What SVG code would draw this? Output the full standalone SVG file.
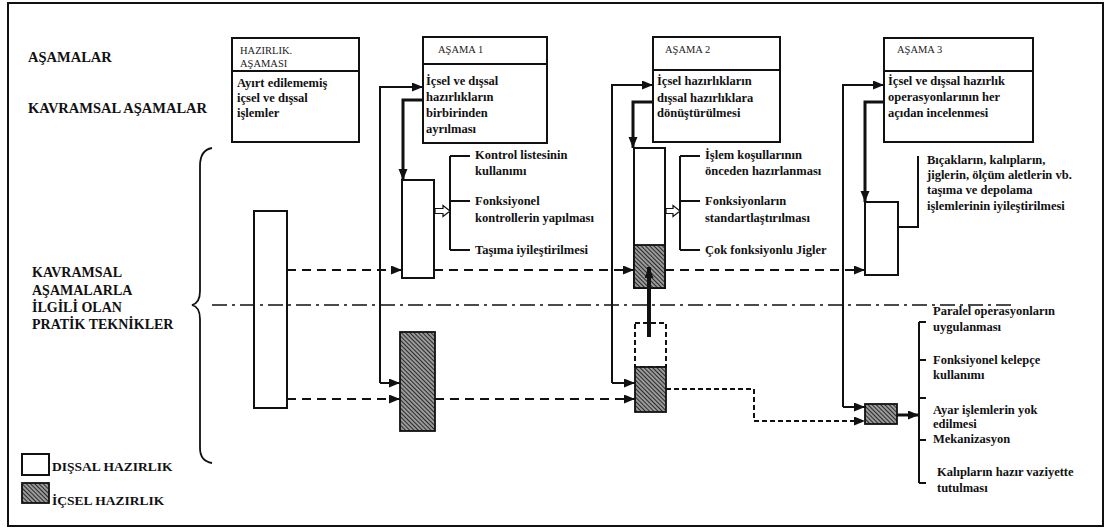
<svg xmlns="http://www.w3.org/2000/svg" width="1105" height="528" viewBox="0 0 1105 528">
<style>
text{font-family:'Liberation Serif','Times New Roman','DejaVu Serif',serif;}
.t{font-weight:bold;fill:#111;}
.lbl{font-size:14.5px;}
.lbl2{font-size:14px;}
.b{font-size:12.5px;}
.h{font-size:10.5px;fill:#222;}
.box{fill:#fff;stroke:#111;stroke-width:2;}
.hat{fill:url(#hatch);stroke:#111;stroke-width:1.8;}
.ln{fill:none;stroke:#111;stroke-width:2;}
.thk{fill:none;stroke:#111;stroke-width:3;}
.dsh{fill:none;stroke:#111;stroke-width:2;stroke-dasharray:9 6;}
.dd{fill:none;stroke:#111;stroke-width:1.6;stroke-dasharray:15 5 3 5;}
.sd{fill:none;stroke:#111;stroke-width:2;stroke-dasharray:5 3;}
</style>
<defs>
<pattern id="hatch" patternUnits="userSpaceOnUse" width="3" height="3" patternTransform="rotate(-45)">
<rect width="3" height="3" fill="#9a9a9a"/>
<line x1="0.5" y1="0" x2="0.5" y2="3" stroke="#2a2a2a" stroke-width="1"/>
</pattern>
<marker id="ah" markerUnits="userSpaceOnUse" markerWidth="12" markerHeight="10" refX="11" refY="4.5" orient="auto">
<path d="M0,0 L11,4.5 L0,9 z" fill="#111"/>
</marker>
</defs>
<rect x="8" y="3" width="1095" height="523" fill="#fff" stroke="#111" stroke-width="2"/>

<g id="labels" font-family="Liberation Serif, serif">
<text class="t lbl" x="28" y="62">AŞAMALAR</text>
<text class="t lbl" x="28" y="113">KAVRAMSAL AŞAMALAR</text>
<text class="t lbl2" x="32" y="277">KAVRAMSAL</text>
<text class="t lbl2" x="32" y="295">AŞAMALARLA</text>
<text class="t lbl2" x="32" y="312">İLGİLİ OLAN</text>
<text class="t lbl2" x="32" y="329">PRATİK TEKNİKLER</text>
<path d="M212,148 Q200,150 200,166 L200,291 Q200,303 192,305 Q200,307 200,319 L200,448 Q200,461 212,463" fill="none" stroke="#111" stroke-width="1.8"/>
</g>

<g id="legend">
<rect class="box" x="22" y="454" width="27" height="21"/>
<text class="t" font-size="13.5" x="52" y="471">DIŞSAL HAZIRLIK</text>
<rect class="hat" x="22" y="483" width="27" height="20"/>
<text class="t" font-size="13.5" x="52" y="505">İÇSEL HAZIRLIK</text>
</g>

<g id="hazirlik">
<rect class="box" x="232" y="38" width="127" height="104"/>
<line x1="232" y1="71" x2="359" y2="71" stroke="#111" stroke-width="2"/>
<text class="h" x="240" y="54">HAZIRLIK.</text>
<text class="h" x="240" y="67">AŞAMASI</text>
<text class="t b" x="237" y="87">Ayırt edilememiş</text>
<text class="t b" x="237" y="102">içsel ve dışsal</text>
<text class="t b" x="237" y="117">işlemler</text>
</g>

<g id="asama1">
<rect class="box" x="423" y="37" width="124" height="106"/>
<line x1="423" y1="64" x2="547" y2="64" stroke="#111" stroke-width="2"/>
<text class="h" x="438" y="53">AŞAMA 1</text>
<text class="t b" x="426" y="85">İçsel ve dışsal</text>
<text class="t b" x="426" y="101">hazırlıkların</text>
<text class="t b" x="426" y="117">birbirinden</text>
<text class="t b" x="426" y="133">ayrılması</text>
</g>

<g id="asama2">
<rect class="box" x="653" y="37" width="127" height="105"/>
<line x1="653" y1="70" x2="780" y2="70" stroke="#111" stroke-width="2"/>
<text class="h" x="665" y="53">AŞAMA 2</text>
<text class="t b" x="657" y="85">İçsel hazırlıkların</text>
<text class="t b" x="657" y="102">dışsal hazırlıklara</text>
<text class="t b" x="657" y="117">dönüştürülmesi</text>
</g>

<g id="asama3">
<rect class="box" x="884" y="38" width="149" height="104"/>
<line x1="884" y1="71" x2="1033" y2="71" stroke="#111" stroke-width="2"/>
<text class="h" x="897" y="53">AŞAMA 3</text>
<text class="t b" x="888" y="85">İçsel ve dışsal hazırlık</text>
<text class="t b" x="888" y="101">operasyonlarının her</text>
<text class="t b" x="888" y="117">açıdan incelenmesi</text>
</g>

<g id="hazirlik-bar">
<rect class="box" x="254" y="211" width="33" height="197"/>
</g>

<g id="s1-dis">
<rect class="box" x="402" y="180" width="32" height="98"/>
</g>
<g id="s1-ic">
<rect class="hat" x="400" y="332" width="35" height="99"/>
</g>

<g id="s2-dis">
<rect class="box" x="634" y="148" width="31" height="140"/>
<rect class="hat" x="634" y="245" width="31" height="43"/>
</g>
<g id="s2-ic">
<rect x="635" y="323" width="31" height="44" fill="#fff" stroke="#111" stroke-width="2" stroke-dasharray="5 3"/>
<rect class="hat" x="635" y="367" width="31" height="45"/>
</g>

<g id="s3-dis">
<rect class="box" x="865" y="202" width="33" height="73"/>
</g>
<g id="s3-ic">
<rect class="hat" x="865" y="404" width="32" height="20"/>
</g>

<g id="s1-techniques">
<path class="ln" d="M450,156 L450,250 M450,156 L470,156 M450,201 L470,201 M450,250 L470,250"/>
<path d="M435,208.5 L443,208.5 L443,205.5 L450,211 L443,216.5 L443,213.5 L435,213.5 z" fill="#fff" stroke="#111" stroke-width="1.2"/>
<text class="t b" x="475" y="159">Kontrol listesinin</text>
<text class="t b" x="475" y="175">kullanımı</text>
<text class="t b" x="475" y="205">Fonksiyonel</text>
<text class="t b" x="475" y="222">kontrollerin yapılması</text>
<text class="t b" x="475" y="254">Taşıma iyileştirilmesi</text>
</g>

<g id="s2-techniques">
<path class="ln" d="M680,156 L680,250 M680,156 L700,156 M680,201 L700,201 M680,250 L700,250"/>
<path d="M666,208.5 L673,208.5 L673,205.5 L680,211 L673,216.5 L673,213.5 L666,213.5 z" fill="#fff" stroke="#111" stroke-width="1.2"/>
<text class="t b" x="705" y="159">İşlem koşullarının</text>
<text class="t b" x="705" y="175">önceden hazırlanması</text>
<text class="t b" x="705" y="205">Fonksiyonların</text>
<text class="t b" x="705" y="222">standartlaştırılması</text>
<text class="t b" x="705" y="254">Çok fonksiyonlu Jigler</text>
</g>

<g id="s3-techniques">
<path class="ln" d="M898,227 L918,227 L918,156"/>
<text class="t b" x="927" y="164">Bıçakların, kalıpların,</text>
<text class="t b" x="927" y="179">jiglerin, ölçüm aletlerin vb.</text>
<text class="t b" x="927" y="194">taşıma ve depolama</text>
<text class="t b" x="927" y="210">işlemlerinin iyileştirilmesi</text>
</g>

<g id="s3-lower-techniques">
<path class="ln" d="M919,322 L919,483 M919,322 L926,322 M919,360 L926,360 M919,398 L926,398 M919,440 L926,440 M919,483 L926,483"/>
<text class="t b" x="933" y="315">Paralel operasyonların</text>
<text class="t b" x="933" y="331">uygulanması</text>
<text class="t b" x="933" y="364">Fonksiyonel kelepçe</text>
<text class="t b" x="933" y="379">kullanımı</text>
<text class="t b" x="933" y="414">Ayar işlemlerin yok</text>
<text class="t b" x="933" y="428">edilmesi</text>
<text class="t b" x="933" y="443">Mekanizasyon</text>
<text class="t b" x="937" y="476">Kalıpların hazır vaziyette</text>
<text class="t b" x="937" y="492">tutulması</text>
</g>

<g id="connectors">
<line class="dd" x1="212" y1="305" x2="1013" y2="305"/>
<path class="ln" d="M380,383 L380,87 L423,87" marker-end="url(#ah)"/>
<path class="ln" d="M380,383 L400,383" marker-end="url(#ah)"/>
<path class="thk" d="M423,100 L403,100 L403,180" marker-end="url(#ah)"/>
<path class="ln" d="M612,383 L612,85 L653,85" marker-end="url(#ah)"/>
<path class="ln" d="M612,383 L635,383" marker-end="url(#ah)"/>
<path class="thk" d="M653,102 L633,102 L633,148" marker-end="url(#ah)"/>
<path fill="none" stroke="#111" stroke-width="4" d="M649,337 L649,267" marker-end="url(#ah)"/>
<path class="ln" d="M843,407 L843,85 L884,85" marker-end="url(#ah)"/>
<path class="ln" d="M843,407 L865,407" marker-end="url(#ah)"/>
<path class="thk" d="M884,102 L865,102 L865,202" marker-end="url(#ah)"/>
<path class="thk" d="M897,415 L919,415" marker-end="url(#ah)"/>
<path class="dsh" d="M287,270 L402,270" marker-end="url(#ah)"/>
<path class="dsh" d="M434,270 L634,270" marker-end="url(#ah)"/>
<path class="dsh" d="M665,270 L865,270" marker-end="url(#ah)"/>
<path class="dsh" d="M287,399 L400,399" marker-end="url(#ah)"/>
<path class="dsh" d="M435,399 L635,399" marker-end="url(#ah)"/>
<path class="sd" d="M666,389 L754,389 L754,421 L865,421" marker-end="url(#ah)"/>
</g>
</svg>
